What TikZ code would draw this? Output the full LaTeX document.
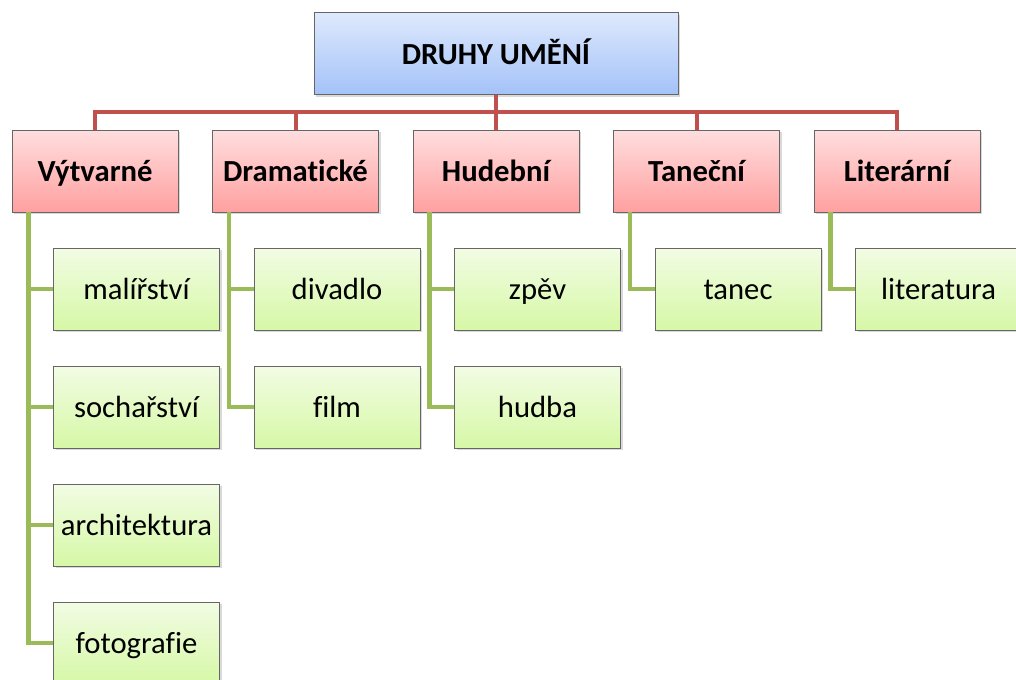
\documentclass[tikz,border=0pt]{standalone}
\usepackage{fontspec}
\setmainfont{Carlito}[Ligatures=NoCommon]
\usetikzlibrary{positioning,shadows}

\definecolor{topA}{RGB}{222,233,253}
\definecolor{topB}{RGB}{164,194,248}
\definecolor{catA}{RGB}{255,222,222}
\definecolor{catB}{RGB}{255,160,160}
\definecolor{leafA}{RGB}{242,252,228}
\definecolor{leafB}{RGB}{214,248,166}
\definecolor{redlink}{RGB}{192,80,77}
\definecolor{greenlink}{RGB}{155,187,89}

\tikzset{
  box/.style={draw=gray!80!black, line width=0.5pt, minimum height=61.5pt,
    inner sep=0pt, text height=20.5pt, text depth=4.5pt,
    font=\fontsize{23}{27}\selectfont,
    drop shadow={shadow xshift=1.5pt, shadow yshift=-1.5pt, opacity=0.3}},
  topbox/.style={box, minimum width=273pt, top color=topA, bottom color=topB, font=\fontsize{23}{27}\selectfont\bfseries},
  catbox/.style={box, minimum width=124.5pt, top color=catA, bottom color=catB, font=\fontsize{23}{27}\selectfont\bfseries},
  leafbox/.style={box, minimum width=124.5pt, top color=leafA, bottom color=leafB},
  redline/.style={draw=redlink, line width=3pt},
  greenline/.style={draw=greenlink, line width=3.4pt}
}

\begin{document}
\begin{tikzpicture}[x=0.75pt,y=-0.75pt]
\useasboundingbox (0,0) rectangle (1016,679);
\coordinate (bar) at (496,112);
\node[topbox] (druhy) at (496,53.5) {DRUHY UMĚNÍ};
\node[catbox] (vytvarne) at (95,171) {Výtvarné};
\node[catbox] (dramaticke) at (295.5,171) {Dramatické};
\node[catbox] (hudebni) at (496,171) {Hudební};
\node[catbox] (tanecni) at (696.5,171) {Taneční};
\node[catbox] (literarni) at (897,171) {Literární};
\draw[redline] (druhy.south) -- (bar);
\draw[redline] (bar) -| (vytvarne.north);
\draw[redline] (bar) -| (dramaticke.north);
\draw[redline] (bar) -| (hudebni.north);
\draw[redline] (bar) -| (tanecni.north);
\draw[redline] (bar) -| (literarni.north);
% vytvarne
\node[leafbox] (malirstvi) at (136.5,289) {malířství};
\node[leafbox] (socharstvi) at (136.5,407) {sochařství};
\node[leafbox] (architektura) at (136.5,525) {architektura};
\node[leafbox] (fotografie) at (136.5,643) {fotografie};
% dramaticke
\node[leafbox] (divadlo) at (337,289) {divadlo};
\node[leafbox] (film) at (337,407) {film};
% hudebni
\node[leafbox] (zpev) at (537.5,289) {zpěv};
\node[leafbox] (hudba) at (537.5,407) {hudba};
% tanecni, literarni
\node[leafbox] (tanec) at (738,289) {tanec};
\node[leafbox] (literatura) at (938.5,289) {literatura};
\draw[greenline] ([xshift=12.75pt]vytvarne.south west) |- (malirstvi.west);
\draw[greenline] ([xshift=12.75pt]vytvarne.south west) |- (socharstvi.west);
\draw[greenline] ([xshift=12.75pt]vytvarne.south west) |- (architektura.west);
\draw[greenline] ([xshift=12.75pt]vytvarne.south west) |- (fotografie.west);
\draw[greenline] ([xshift=12.75pt]dramaticke.south west) |- (divadlo.west);
\draw[greenline] ([xshift=12.75pt]dramaticke.south west) |- (film.west);
\draw[greenline] ([xshift=12.75pt]hudebni.south west) |- (zpev.west);
\draw[greenline] ([xshift=12.75pt]hudebni.south west) |- (hudba.west);
\draw[greenline] ([xshift=12.75pt]tanecni.south west) |- (tanec.west);
\draw[greenline] ([xshift=12.75pt]literarni.south west) |- (literatura.west);
\end{tikzpicture}
\end{document}
